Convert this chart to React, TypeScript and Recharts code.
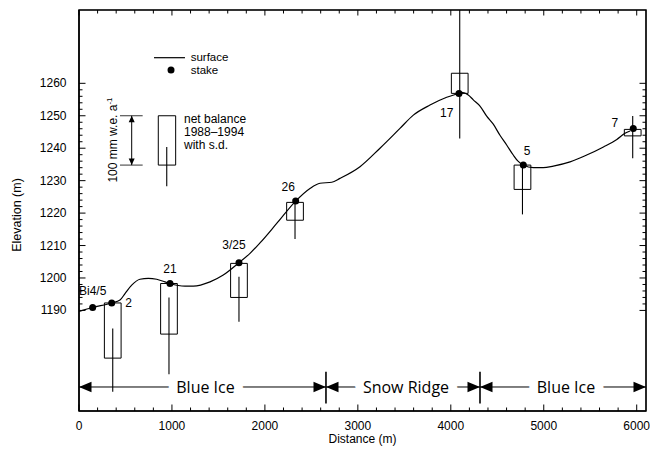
import React from 'react';
import {
  ComposedChart,
  Line,
  Scatter,
  XAxis,
  YAxis,
  ReferenceArea,
  ReferenceLine,
  ReferenceDot,
} from 'recharts';

// Surface profile along the traverse (distance m, elevation m)
const surface = [
  { x: 0, y: 1189.7 }, { x: 147, y: 1190.9 }, { x: 352, y: 1192.3 }, { x: 441, y: 1193.2 },
  { x: 495, y: 1195.2 }, { x: 567, y: 1197.8 }, { x: 656, y: 1199.6 }, { x: 746, y: 1199.9 },
  { x: 836, y: 1199.6 }, { x: 925, y: 1198.8 }, { x: 979, y: 1198.3 }, { x: 1140, y: 1197.5 },
  { x: 1230, y: 1197.5 }, { x: 1410, y: 1198.8 }, { x: 1552, y: 1200.9 }, { x: 1721, y: 1204.7 },
  { x: 1840, y: 1207.6 }, { x: 1947, y: 1210.8 }, { x: 2127, y: 1216.8 }, { x: 2331, y: 1223.7 },
  { x: 2485, y: 1227.6 }, { x: 2593, y: 1229.2 }, { x: 2719, y: 1229.5 }, { x: 2808, y: 1230.7 },
  { x: 3023, y: 1234.3 }, { x: 3238, y: 1240.0 }, { x: 3453, y: 1246.1 }, { x: 3597, y: 1250.2 },
  { x: 3776, y: 1253.3 }, { x: 3956, y: 1255.7 }, { x: 4088, y: 1256.9 }, { x: 4120, y: 1257.2 },
  { x: 4188, y: 1256.4 }, { x: 4242, y: 1254.9 }, { x: 4314, y: 1253.0 }, { x: 4386, y: 1249.9 },
  { x: 4457, y: 1247.4 }, { x: 4529, y: 1244.0 }, { x: 4601, y: 1241.0 }, { x: 4672, y: 1237.9 },
  { x: 4723, y: 1236.0 }, { x: 4780, y: 1234.8 }, { x: 4888, y: 1234.0 }, { x: 4995, y: 1234.0 },
  { x: 5103, y: 1234.5 }, { x: 5283, y: 1235.8 }, { x: 5462, y: 1237.9 }, { x: 5642, y: 1240.4 },
  { x: 5786, y: 1242.7 }, { x: 5874, y: 1244.6 }, { x: 5928, y: 1245.3 },
];

// Stakes
const stakes = [
  { name: 'Bi4/5', x: 147, y: 1190.9 },
  { name: '2', x: 352, y: 1192.3 },
  { name: '21', x: 979, y: 1198.3 },
  { name: '3/25', x: 1721, y: 1204.7 },
  { name: '26', x: 2331, y: 1223.7 },
  { name: '17', x: 4088, y: 1256.9 },
  { name: '5', x: 4780, y: 1234.8 },
  { name: '7', x: 5963, y: 1246.1 },
];

// Net balance 1988-1994 boxes (drawn in elevation units) with s.d. bars
const balance = [
  { x: 363, top: 1192.3, bottom: 1175.3, sdHigh: 1184.4, sdLow: 1164.9 },
  { x: 968, top: 1198.3, bottom: 1182.7, sdHigh: 1194.0, sdLow: 1170.3 },
  { x: 1721, top: 1204.5, bottom: 1194.0, sdHigh: 1200.4, sdLow: 1186.5 },
  { x: 2324, top: 1223.3, bottom: 1217.8, sdHigh: 1223.5, sdLow: 1212.0 },
  { x: 4096, top: 1263.1, bottom: 1256.9, sdHigh: 1290.0, sdLow: 1243.0 },
  { x: 4771, top: 1234.8, bottom: 1227.3, sdHigh: 1234.3, sdLow: 1219.6 },
  { x: 5957, top: 1245.8, bottom: 1243.8, sdHigh: 1249.9, sdLow: 1236.9 },
];

// Surface zones along the bottom
const zones = [
  { name: 'Blue Ice', from: 0, to: 2657 },
  { name: 'Snow Ridge', from: 2657, to: 4314 },
  { name: 'Blue Ice', from: 4314, to: 6100 },
];
const zoneBreaks = [2657, 4314];

const xTicks = [
  0, 200, 400, 600, 800, 1000, 1200, 1400, 1600, 1800, 2000, 2200, 2400, 2600, 2800, 3000,
  3200, 3400, 3600, 3800, 4000, 4200, 4400, 4600, 4800, 5000, 5200, 5400, 5600, 5800, 6000,
];
const yTicks = [
  1190, 1192, 1194, 1196, 1198, 1200, 1202, 1204, 1206, 1208, 1210, 1212, 1214, 1216, 1218,
  1220, 1222, 1224, 1226, 1228, 1230, 1232, 1234, 1236, 1238, 1240, 1242, 1244, 1246, 1248,
  1250, 1252, 1254, 1256, 1258, 1260,
];

const FONT = '"Liberation Sans", Arial, Helvetica, sans-serif';
const BOX_W = 180;
const ZONE_Y = 1166.4;
const X_MIN = 0;
const X_MAX = 6100;
const Y_MIN = 1159;
const Y_MAX = 1282.6;

// label offset (px) of each stake name relative to its dot
const labelOffset: Record<string, [number, number]> = {
  'Bi4/5': [0, -17],
  '2': [17, -0.5],
  '21': [0, -15],
  '3/25': [-5, -17.7],
  '26': [-7.4, -14.8],
  '17': [-12.3, 19.5],
  '5': [3.7, -14.5],
  '7': [-18.5, -5.6],
};

function BottomTick({ x, y, payload }: any) {
  const major = payload.value % 1000 === 0;
  return (
    <g>
      <line x1={x} y1={y} x2={x} y2={y - (major ? 6.5 : 3.5)} stroke="#000" strokeWidth={1} />
      {major && (
        <text x={x} y={y + 18.5} textAnchor="middle" fontSize={12} fontFamily={FONT} fill="#000">
          {payload.value}
        </text>
      )}
    </g>
  );
}

function LeftTick({ x, y, payload }: any) {
  const major = payload.value % 10 === 0;
  return (
    <g>
      <line x1={x} y1={y} x2={x + (major ? 6.5 : 3.5)} y2={y} stroke="#000" strokeWidth={1} />
      {major && (
        <text x={x - 12.5} y={y + 4} textAnchor="end" fontSize={12} fontFamily={FONT} fill="#000">
          {payload.value}
        </text>
      )}
    </g>
  );
}

// mirrored inward ticks on the top and right edges of the frame
function topTick(major: boolean) {
  return (p: any) => (
    <line x1={p.x1} y1={p.y1} x2={p.x1} y2={p.y1 + (major ? 5.5 : 3.5)} stroke="#000" strokeWidth={1} />
  );
}
function rightTick(major: boolean) {
  return (p: any) => (
    <line x1={p.x1} y1={p.y1} x2={p.x1 - (major ? 6.5 : 3.5)} y2={p.y1} stroke="#000" strokeWidth={1} />
  );
}

function StakeDot(props: any) {
  const { cx, cy, payload } = props;
  const [dx, dy] = labelOffset[payload.name] || [0, -15];
  return (
    <g>
      <circle cx={cx} cy={cy} r={3.5} fill="#000" />
      <text
        x={cx + dx}
        y={cy + dy + 4.3}
        textAnchor="middle"
        fontSize={12}
        fontFamily={FONT}
        fill="#000"
      >
        {payload.name}
      </text>
    </g>
  );
}

function zoneShape(name: string) {
  return (p: any) => {
    const { x1, x2, y1 } = p;
    const y = y1;
    const ah = 12.5;
    const hw = 5.3;
    const mid = (x1 + x2) / 2 + 3;
    return (
      <g>
        <line x1={x1} y1={y} x2={x2} y2={y} stroke="#000" strokeWidth={1} />
        <polygon points={`${x1},${y} ${x1 + ah},${y - hw} ${x1 + ah},${y + hw}`} fill="#000" />
        <polygon points={`${x2},${y} ${x2 - ah},${y - hw} ${x2 - ah},${y + hw}`} fill="#000" />
        <text
          x={mid}
          y={y + 5.7}
          textAnchor="middle"
          fontSize={16}
          fontFamily='"Open Sans", "Noto Sans", sans-serif'
          fill="#000"
          stroke="#fff"
          strokeWidth={18}
          strokeLinejoin="round"
          paintOrder="stroke"
        >
          {name}
        </text>
      </g>
    );
  };
}

function scaleArrow(p: any) {
  const { x1, y1, y2 } = p;
  const lo = Math.max(y1, y2);
  const hi = Math.min(y1, y2);
  return (
    <g>
      <line x1={x1} y1={lo} x2={x1} y2={hi} stroke="#000" />
      <polygon points={`${x1},${hi} ${x1 - 3},${hi + 6.5} ${x1 + 3},${hi + 6.5}`} fill="#000" />
      <polygon points={`${x1},${lo} ${x1 - 3},${lo - 6.5} ${x1 + 3},${lo - 6.5}`} fill="#000" />
    </g>
  );
}

export default function App() {
  return (
    <div style={{ position: 'absolute', left: 0, top: 0, width: 650, height: 451, background: '#fff' }}>
      <ComposedChart width={650} height={451} margin={{ top: 10, right: 4, bottom: 0, left: 0 }}>
        <XAxis
          type="number"
          dataKey="x"
          domain={[X_MIN, X_MAX]}
          allowDataOverflow
          ticks={xTicks}
          interval={0}
          height={40}
          tickLine={false}
          tickSize={0}
          tickMargin={0}
          axisLine={{ stroke: '#000' }}
          tick={<BottomTick />}
        />
        <YAxis
          type="number"
          domain={[Y_MIN, Y_MAX]}
          allowDataOverflow
          ticks={yTicks}
          interval={0}
          width={79}
          tickLine={false}
          tickSize={0}
          tickMargin={0}
          axisLine={{ stroke: '#000' }}
          tick={<LeftTick />}
        />

        {/* frame round the plot, with inward ticks on the top and right edges */}
        <ReferenceArea
          x1={X_MIN}
          x2={X_MAX}
          y1={Y_MIN}
          y2={Y_MAX}
          fill="none"
          fillOpacity={0}
          stroke="#000"
          strokeWidth={1.2}
          strokeOpacity={1}
          ifOverflow="visible"
        />
        {xTicks.map((t) => (
          <ReferenceLine
            key={`tt-${t}`}
            segment={[{ x: t, y: Y_MAX }, { x: t, y: Y_MAX }]}
            ifOverflow="visible"
            shape={topTick(t % 1000 === 0)}
          />
        ))}
        {yTicks.map((t) => (
          <ReferenceLine
            key={`rt-${t}`}
            segment={[{ x: X_MAX, y: t }, { x: X_MAX, y: t }]}
            ifOverflow="visible"
            shape={rightTick(t % 10 === 0)}
          />
        ))}

        {/* net balance boxes and s.d. bars */}
        {balance.map((b, i) => (
          <ReferenceArea
            key={`box-${i}`}
            x1={b.x - BOX_W / 2}
            x2={b.x + BOX_W / 2}
            y1={b.bottom}
            y2={b.top}
            fill="none"
            fillOpacity={0}
            stroke="#000"
            strokeWidth={1}
            strokeOpacity={1}
            ifOverflow="hidden"
          />
        ))}
        {balance.map((b, i) => (
          <ReferenceLine
            key={`sd-${i}`}
            segment={[{ x: b.x, y: b.sdLow }, { x: b.x, y: b.sdHigh }]}
            stroke="#000"
            strokeWidth={1.1}
            ifOverflow="hidden"
          />
        ))}

        {/* surface zones */}
        {zones.map((z, i) => (
          <ReferenceLine
            key={`zone-${i}`}
            segment={[{ x: z.from, y: ZONE_Y }, { x: z.to, y: ZONE_Y }]}
            ifOverflow="visible"
            shape={zoneShape(z.name)}
          />
        ))}
        {zoneBreaks.map((d, i) => (
          <ReferenceLine
            key={`brk-${i}`}
            segment={[{ x: d, y: 1161.3 }, { x: d, y: 1171.1 }]}
            stroke="#000"
            strokeWidth={1.6}
          />
        ))}

        {/* legend samples */}
        <ReferenceLine segment={[{ x: 807, y: 1267.9 }, { x: 1140, y: 1267.9 }]} stroke="#000" strokeWidth={1.2} />
        <ReferenceDot x={990} y={1264.1} r={3.5} fill="#000" stroke="none" />
        <ReferenceArea x1={853} x2={1040} y1={1234.8} y2={1250} fill="none" fillOpacity={0} stroke="#000" strokeOpacity={1} />
        <ReferenceLine segment={[{ x: 944, y: 1228.3 }, { x: 944, y: 1240.4 }]} stroke="#000" strokeWidth={1.1} />
        <ReferenceLine segment={[{ x: 441, y: 1250 }, { x: 685, y: 1250 }]} stroke="#000" strokeWidth={0.8} />
        <ReferenceLine segment={[{ x: 441, y: 1234.8 }, { x: 685, y: 1234.8 }]} stroke="#000" strokeWidth={0.8} />
        <ReferenceLine segment={[{ x: 567, y: 1234.8 }, { x: 567, y: 1250 }]} shape={scaleArrow} />

        <Line
          data={surface}
          dataKey="y"
          type="monotone"
          stroke="#000"
          strokeWidth={1.2}
          dot={false}
          activeDot={false}
          isAnimationActive={false}
        />
        <Scatter data={stakes} dataKey="y" fill="#000" shape={<StakeDot />} isAnimationActive={false} />
      </ComposedChart>

      <svg
        width={650}
        height={451}
        style={{ position: 'absolute', left: 0, top: 0, pointerEvents: 'none' }}
        fontFamily={FONT}
        fontSize={12}
        fill="#000"
      >
        {/* plot frame outline, same box as the chart's plot area */}
        <rect x={79} y={10} width={567} height={401} fill="none" stroke="#000" strokeWidth={1.2} />
        <text x={190.7} y={60.8} fontSize={11.5}>surface</text>
        <text x={190.7} y={73.8} fontSize={11.5}>stake</text>
        <text x={184} y={122.7}>net balance</text>
        <text x={184} y={135.5}>1988–1994</text>
        <text x={184} y={148.5}>with s.d.</text>
        <text transform="translate(116.5,140) rotate(-90)" textAnchor="middle">
          100 mm w.e. a<tspan dy={-4.5} fontSize={8}>-1</tspan>
        </text>
        <text transform="translate(20.5,215) rotate(-90)" textAnchor="middle" fontSize={12.5}>
          Elevation (m)
        </text>
        <text x={362.5} y={443} textAnchor="middle">
          Distance (m)
        </text>
      </svg>
    </div>
  );
}
